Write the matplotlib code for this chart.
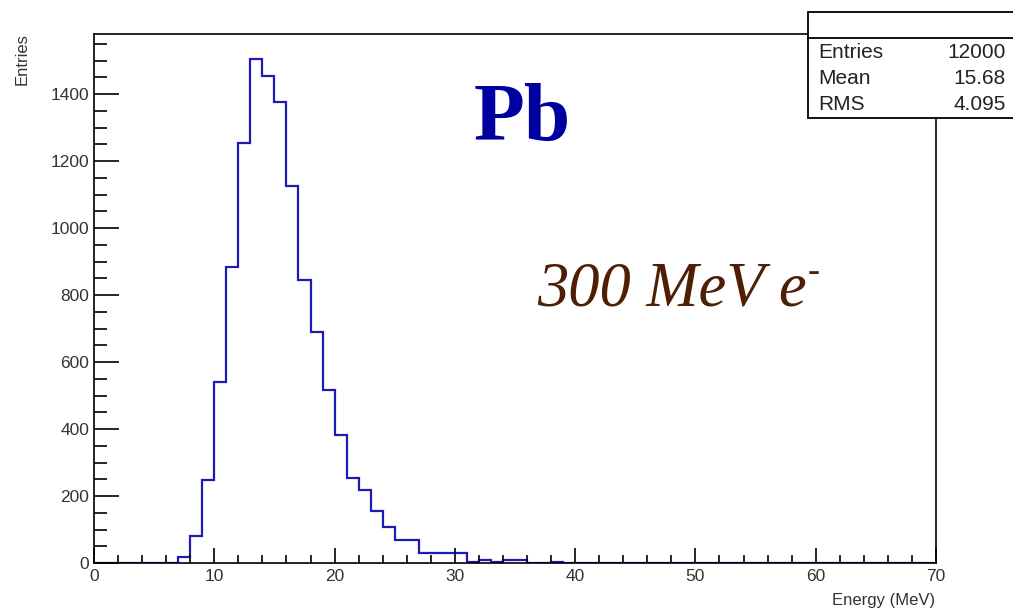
import numpy as np
import matplotlib
matplotlib.use("Agg")
import matplotlib.pyplot as plt
from matplotlib.patches import Rectangle
from matplotlib.ticker import MultipleLocator

# histogram: 70 bins of 1 MeV, 0..70
edges = np.arange(0, 71, 1)
counts = np.zeros(70)
first_bin = 7
filled = [19, 81, 248, 540, 883, 1255, 1504, 1455, 1375, 1126,
          845, 690, 515, 381, 253, 217, 156, 106, 69, 69,
          31, 31, 31, 31, 4, 10, 3, 10, 10, 0, 0, 4]
counts[first_bin:first_bin + len(filled)] = filled

stat_names = ["Entries", "Mean", "RMS"]
stat_vals = ["12000", "15.68", "4.095"]

W, H = 1013, 613
fig = plt.figure(figsize=(W / 100, H / 100), dpi=100)
ax = fig.add_axes([94 / W, 50 / H, (936 - 94) / W, (563 - 34) / H])

ax.stairs(counts, edges, color="#1c1cb4", lw=1.6)
ax.set_xlim(0, 70)
ax.set_ylim(0, 1.05 * counts.max())

ax.xaxis.set_major_locator(MultipleLocator(10))
ax.xaxis.set_minor_locator(MultipleLocator(2))
ax.yaxis.set_major_locator(MultipleLocator(200))
ax.yaxis.set_minor_locator(MultipleLocator(50))
ax.tick_params(which="both", direction="in", top=False, right=False,
               labelsize=12.5, labelcolor="#333333", width=1.2)
ax.tick_params(axis="x", which="major", length=11, pad=4)
ax.tick_params(axis="x", which="minor", length=5.5)
ax.tick_params(axis="y", which="major", length=18)
ax.tick_params(axis="y", which="minor", length=9)
for lab in ax.get_xticklabels() + ax.get_yticklabels():
    lab.set_family("Liberation Sans")
for s in ax.spines.values():
    s.set_linewidth(1.2)

fig.text(22 / W, 1 - 33 / H, "Entries", rotation=90, ha="center", va="top",
         fontsize=12, family="Liberation Sans", color="#333333")
fig.text(935 / W, 1 - 600 / H, "Energy (MeV)", ha="right", va="center",
         fontsize=12, family="Liberation Sans", color="#333333")

# labels in the plot
fig.text(522 / W, 1 - 140 / H, "Pb", ha="center", va="baseline",
         fontsize=60, fontweight="bold", family="Liberation Serif",
         color="#0000a0")
t = fig.text(537 / W, 1 - 306 / H, "300 MeV e", ha="left", va="baseline",
             fontsize=45, fontstyle="italic", family="Liberation Serif",
             color="#4f1f05")
ax.annotate("-", xy=(1, 1), xycoords=t, xytext=(1, 4),
            textcoords="offset points", ha="left", va="top",
            fontsize=26, fontstyle="italic", family="Liberation Serif",
            color="#4f1f05")

# stats box
bx0, by0, bx1, by1 = 808 / W, 1 - 118 / H, 1.05, 1 - 12 / H
fig.patches.append(Rectangle((bx0, by0), bx1 - bx0, by1 - by0,
                             transform=fig.transFigure, facecolor="white",
                             edgecolor="black", lw=1.3, zorder=5))
fig.add_artist(plt.Line2D([bx0, 1], [1 - 38 / H] * 2, color="black", lw=1.3,
                          transform=fig.transFigure, zorder=6))
for i, (n, v) in enumerate(zip(stat_names, stat_vals)):
    y = 1 - (53 + 25.5 * i) / H
    fig.text(818 / W, y, n, ha="left", va="center", fontsize=15,
             family="Liberation Sans", color="#222222", zorder=7)
    fig.text(1006 / W, y, v, ha="right", va="center", fontsize=15,
             family="Liberation Sans", color="#222222", zorder=7)

fig.savefig("out.png", dpi=100)
